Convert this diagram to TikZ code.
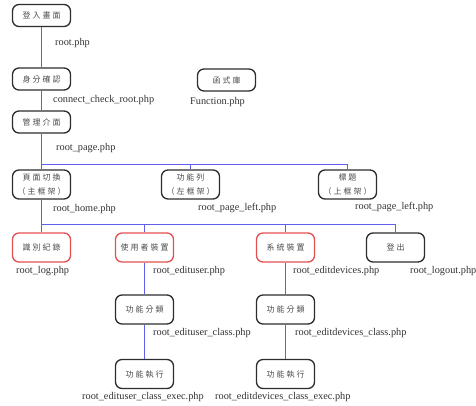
\documentclass[tikz,border=0pt]{standalone}
\usepackage{fontspec}
\setmainfont{Liberation Serif}
\newfontfamily\cjk[LetterSpace=25]{Noto Sans CJK TC}
\definecolor{linkc}{RGB}{95,95,235}
\definecolor{redc}{RGB}{228,80,80}
\definecolor{boxc}{RGB}{45,45,45}
\begin{document}
\begin{tikzpicture}[x=1pt,y=-1pt,
  box/.style={draw=boxc, line width=1.3pt, rounded corners=6.5pt, fill=white,
    minimum width=58pt, minimum height=22pt, inner sep=0pt, align=center,
    font=\cjk\fontsize{8}{13.5}\selectfont, text=black!70},
  tall/.style={minimum height=29pt},
  redbox/.style={draw=redc},
  lbl/.style={anchor=west, inner sep=0pt, font=\fontsize{10.3}{12}\selectfont, text=black!80},
  conn/.style={draw=linkc, line width=1.1pt}]
\useasboundingbox (0,0) rectangle (476,405);
% nodes
\node[box] (A) at (41.5,15.5) {登入畫面};
\node[box] (B) at (41.5,79) {身分確認};
\node[box] (C) at (41.5,122) {管理介面};
\node[box] (Fn) at (226.5,80) {函式庫};
\node[box,tall] (D) at (41.5,184.5) {頁面切換\\（主框架）};
\node[box,tall] (E) at (190.5,184.5) {功能列\\（左框架）};
\node[box,tall] (F) at (347.5,184.5) {標題\\（上框架）};
\node[box,tall,redbox] (G) at (41.5,247.5) {識別紀錄};
\node[box,tall,redbox] (H) at (144.5,247.5) {使用者裝置};
\node[box,tall,redbox] (I) at (285.5,247.5) {系統裝置};
\node[box,tall] (J) at (395.5,247.5) {登出};
\node[box,tall] (K) at (144.5,309.5) {功能分類};
\node[box,tall] (L) at (144.5,374) {功能執行};
\node[box,tall] (M) at (285.5,309.5) {功能分類};
\node[box,tall] (N) at (285.5,374) {功能執行};
\coordinate (r1) at (41.5,164.5);
\coordinate (r2) at (41.5,224.5);
% connectors
\draw[conn] (A.south) -- (B.north);
\draw[conn] (B.south) -- (C.north);
\draw[conn] (C.south) -- (D.north);
\draw[conn] (r1) -| (E.north);
\draw[conn] (r1) -| (F.north);
\draw[conn] (D.south) -- (G.north);
\draw[conn] (r2) -| (H.north);
\draw[conn] (r2) -| (I.north);
\draw[conn] (r2) -| (J.north);
\draw[conn] (H.south) -- (K.north);
\draw[conn] (K.south) -- (L.north);
\draw[conn] (I.south) -- (M.north);
\draw[conn] (M.south) -- (N.north);
% labels
\node[lbl] (lA) at (55,43) {root.php};
\node[lbl] (lB) at (53,100) {connect\_check\_root.php};
\node[lbl] (lC) at (56,148) {root\_page.php};
\node[lbl] (lFn) at (190,102) {Function.php};
\node[lbl] (lD) at (53,209) {root\_home.php};
\node[lbl] (lE) at (198,208) {root\_page\_left.php};
\node[lbl] (lF) at (355,207) {root\_page\_left.php};
\node[lbl] (lG) at (16,271) {root\_log.php};
\node[lbl] (lH) at (153,271) {root\_edituser.php};
\node[lbl] (lI) at (293,271) {root\_editdevices.php};
\node[lbl] (lJ) at (410,271) {root\_logout.php};
\node[lbl] (lK) at (153,333) {root\_edituser\_class.php};
\node[lbl] (lM) at (295,333) {root\_editdevices\_class.php};
\node[lbl] (lL) at (82,397) {root\_edituser\_class\_exec.php};
\node[lbl] (lN) at (215,397) {root\_editdevices\_class\_exec.php};
\end{tikzpicture}
\end{document}
